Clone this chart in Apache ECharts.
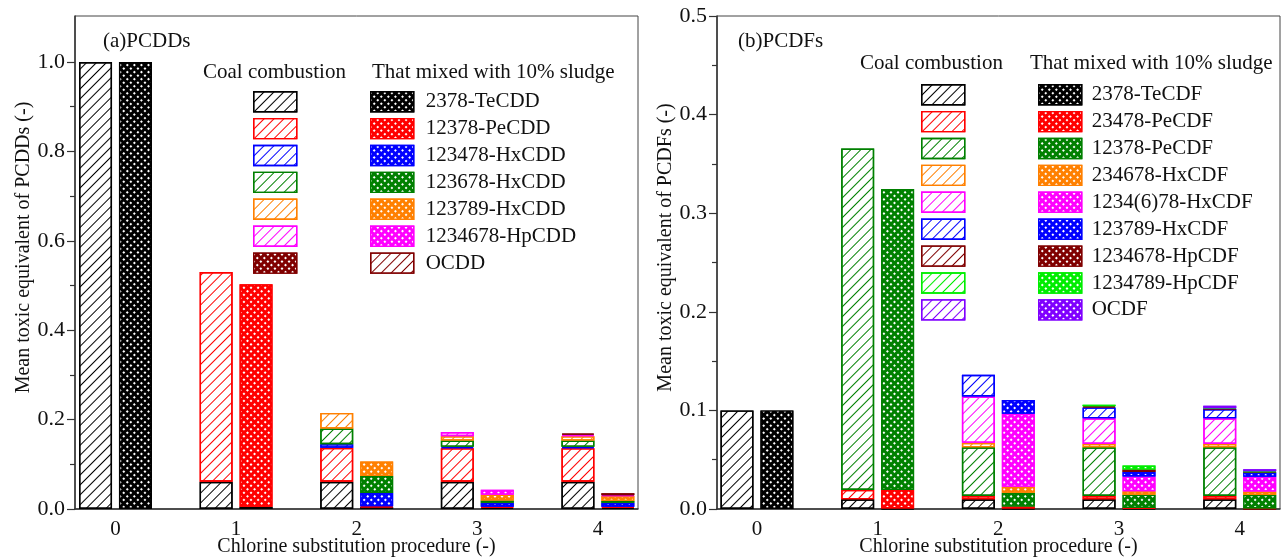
<!DOCTYPE html>
<html><head><meta charset="utf-8">
<script src="https://cdn.jsdelivr.net/npm/echarts@6/dist/echarts.min.js"></script>
<style>html,body{margin:0;padding:0;background:#fff}#c{width:1287px;height:558px}</style>
</head><body><div id="c"></div>
<script>
// ---------- data ----------
const categories = ['0', '1', '2', '3', '4'];

// (a) PCDDs
const cddNames = ['2378-TeCDD', '12378-PeCDD', '123478-HxCDD', '123678-HxCDD', '123789-HxCDD', '1234678-HpCDD', 'OCDD'];
const cddColors = ['#000000', '#ff0000', '#0000ff', '#008000', '#ff8000', '#ff00ff', '#800000'];
// coal combustion
const coalTeCDD   = [1.000, 0.061, 0.061, 0.061, 0.061];
const coalPeCDD   = [null, 0.469, 0.076, 0.075, 0.075];
const coalHx478   = [null, null, 0.008, 0.003, 0.003];
const coalHx678   = [null, null, 0.035, 0.014, 0.014];
const coalHx789   = [null, null, 0.035, 0.010, 0.010];
const coalHpCDD   = [null, null, null, 0.009, 0.003];
const coalOCDD    = [null, null, null, null, 0.003];
// mixed with 10% sludge
const mixTeCDD    = [1.000, 0.005, 0.004, 0.003, 0.003];
const mixPeCDD    = [null, 0.498, 0.002, 0.002, 0.002];
const mixHx478    = [null, null, 0.030, 0.009, 0.009];
const mixHx678    = [null, null, 0.038, 0.005, 0.004];
const mixHx789    = [null, null, 0.032, 0.013, 0.011];
const mixHpCDD    = [null, null, null, 0.011, 0.002];
const mixOCDD     = [null, null, null, null, 0.004];

// (b) PCDFs
const cdfNames = ['2378-TeCDF', '23478-PeCDF', '12378-PeCDF', '234678-HxCDF', '1234(6)78-HxCDF', '123789-HxCDF', '1234678-HpCDF', '1234789-HpCDF', 'OCDF'];
const cdfColors = ['#000000', '#ff0000', '#008000', '#ff8000', '#ff00ff', '#0000ff', '#800000', '#00ee00', '#8000ff'];
// coal combustion
const coalTeCDF    = [0.100, 0.0098, 0.0098, 0.0098, 0.0098];
const coalPe23478  = [null, 0.0095, 0.0034, 0.0034, 0.0034];
const coalPe12378  = [null, 0.3462, 0.0494, 0.0494, 0.0494];
const coalHx234678 = [null, null, 0.0045, 0.0034, 0.0034];
const coalHx123478 = [null, null, 0.0470, 0.0260, 0.0260];
const coalHx123789 = [null, null, 0.0220, 0.0110, 0.0093];
const coalHp1234678= [null, null, null, 0.0012, 0.0005];
const coalHp1234789= [null, null, null, 0.0015, 0.0005];
const coalOCDF     = [null, null, null, null, 0.0025];
// mixed with 10% sludge
const mixTeCDF     = [0.100, 0.0005, 0.0005, 0.0005, 0.0003];
const mixPe23478   = [null, 0.0188, 0.0020, 0.0005, 0.0003];
const mixPe12378   = [null, 0.3052, 0.0140, 0.0135, 0.0137];
const mixHx234678  = [null, null, 0.0060, 0.0035, 0.0034];
const mixHx123478  = [null, null, 0.0740, 0.0150, 0.0150];
const mixHx123789  = [null, null, 0.0140, 0.0045, 0.0045];
const mixHp1234678 = [null, null, null, 0.0025, 0.0005];
const mixHp1234789 = [null, null, null, 0.0040, 0.0005];
const mixOCDF      = [null, null, null, null, 0.0020];

const yTicksA = [0, 0.2, 0.4, 0.6, 0.8, 1.0];
const yMinorA = [0.1, 0.3, 0.5, 0.7, 0.9];
const yTicksB = [0, 0.1, 0.2, 0.3, 0.4, 0.5];
const yMinorB = [0.05, 0.15, 0.25, 0.35, 0.45];

const cddCoal = [coalTeCDD, coalPeCDD, coalHx478, coalHx678, coalHx789, coalHpCDD, coalOCDD];
const cddMix  = [mixTeCDD, mixPeCDD, mixHx478, mixHx678, mixHx789, mixHpCDD, mixOCDD];
const cdfCoal = [coalTeCDF, coalPe23478, coalPe12378, coalHx234678, coalHx123478, coalHx123789, coalHp1234678, coalHp1234789, coalOCDF];
const cdfMix  = [mixTeCDF, mixPe23478, mixPe12378, mixHx234678, mixHx123478, mixHx123789, mixHp1234678, mixHp1234789, mixOCDF];

// ---------- styling ----------
const FONT = 'Liberation Serif';
const TXT = '#111';
function hatch(c) {
  return { color: c, symbol: 'rect', symbolSize: 1, dashArrayX: [[1, 0]], dashArrayY: [1, 5.8], rotation: -Math.PI / 4 };
}
function cross() {
  return { color: '#ffffff', symbol: 'rect', symbolSize: 1, dashArrayX: [[2, 2.2]], dashArrayY: [2, 2.2], rotation: Math.PI / 4 };
}

function buildSeries(names, coal, mix, colors, xi, yi, tag) {
  const out = [];
  names.forEach((n, i) => {
    out.push({
      type: 'bar', name: tag + 'c:' + n, xAxisIndex: xi, yAxisIndex: yi, stack: 'coal' + xi,
      barWidth: 33, barGap: '21%', data: coal[i], silent: true,
      itemStyle: { color: '#ffffff', borderColor: colors[i], borderWidth: 1.4, decal: hatch(colors[i]) }
    });
  });
  names.forEach((n, i) => {
    out.push({
      type: 'bar', name: tag + n, xAxisIndex: xi, yAxisIndex: yi, stack: 'mix' + xi,
      barWidth: 33, barGap: '21%', data: mix[i], silent: true,
      itemStyle: { color: colors[i], borderColor: colors[i], borderWidth: 1.4, decal: cross() }
    });
  });
  return out;
}

const series = [].concat(
  buildSeries(cddNames, cddCoal, cddMix, cddColors, 1, 2, 'A'),
  buildSeries(cdfNames, cdfCoal, cdfMix, cdfColors, 3, 5, 'B')
);

// legend data (left panel: OCDD entries swapped as in the original)
const legCoalA = cddNames.slice(0, 6).map(n => 'Ac:' + n).concat(['AOCDD']);
const legMixA  = cddNames.slice(0, 6).map(n => 'A' + n).concat(['Ac:OCDD']);
const legCoalB = cdfNames.map(n => 'Bc:' + n);
const legMixB  = cdfNames.map(n => 'B' + n);
const strip = s => s.replace(/^[AB](c:)?/, '');

function frameY(gi, max, ticks, name, fmt) {
  return {
    gridIndex: gi, type: 'value', min: 0, max: max, position: 'left',
    axisLine: { show: true, lineStyle: { color: '#333', width: 1.5 } },
    axisTick: { show: true, inside: false, length: 8, customValues: ticks, lineStyle: { color: '#333', width: 1.2 } },
    axisLabel: { customValues: ticks, formatter: fmt, margin: 10, fontFamily: FONT, fontSize: 22, color: TXT, padding: [4, 0, 0, 0] },
    splitLine: { show: false },
    name: name, nameLocation: 'middle', nameGap: 27, nameRotate: 90,
    nameTextStyle: { fontFamily: FONT, fontSize: 20, color: TXT, padding: [0, 0, 0, 30] }
  };
}
function minorY(gi, max, ticks) {
  return {
    gridIndex: gi, type: 'value', min: 0, max: max, position: 'left',
    axisLine: { show: false },
    axisTick: { show: true, inside: false, length: 5, customValues: ticks, lineStyle: { color: '#333', width: 1.2 } },
    axisLabel: { show: false }, splitLine: { show: false }
  };
}
function frameX(gi) {
  return {
    gridIndex: gi, type: 'value', min: 0, max: 1,
    axisLine: { show: true, onZero: false, lineStyle: { color: '#333', width: 1.5 } },
    axisTick: { show: false }, axisLabel: { show: false }, splitLine: { show: false },
    name: 'Chlorine substitution procedure (-)', nameLocation: 'middle', nameGap: 28,
    nameTextStyle: { fontFamily: FONT, fontSize: 20, color: TXT }
  };
}
function barX(gi) {
  return {
    gridIndex: gi, type: 'category', data: categories,
    axisLine: { show: false }, axisTick: { show: false }, splitLine: { show: false },
    axisLabel: { margin: 10, fontFamily: FONT, fontSize: 21, color: TXT }
  };
}
function barY(gi, max) {
  return { gridIndex: gi, type: 'value', min: 0, max: max, show: false };
}
function legend(left, top, data, withText, padL) {
  return {
    orient: 'vertical', left: left, top: top, padding: 0, data: data,
    itemWidth: 43, itemHeight: 20, itemGap: 5.5, selectedMode: false, icon: 'rect',
    itemStyle: { borderWidth: 1.4 },
    formatter: withText ? (n => strip(n)) : (() => ''),
    textStyle: { fontFamily: FONT, fontSize: 21, color: TXT, lineHeight: 20, padding: [0, 0, 0, padL] }
  };
}
function label(text, left, top) {
  return { text: text, left: left, top: top, padding: 0,
    textStyle: { fontFamily: FONT, fontSize: 21, fontWeight: 'normal', color: TXT } };
}
function grid(left, width, frame) {
  const g = { left: left, top: 16, width: width, height: 493, outerBoundsMode: 'none', containLabel: false };
  if (frame) Object.assign(g, { show: true, borderColor: '#444', borderWidth: 1, backgroundColor: 'transparent' });
  return g;
}

const option = {
  animation: false,
  backgroundColor: '#fff',
  title: [
    label('(a)PCDDs', 103, 31),
    label('Coal combustion', 203, 62),
    label('That mixed with 10% sludge', 372, 62),
    label('(b)PCDFs', 738, 31),
    label('Coal combustion', 860, 53),
    label('That mixed with 10% sludge', 1030, 53)
  ],
  grid: [grid(75, 563, true), grid(55.2, 603, false), grid(717, 563, true), grid(696.6, 603.5, false)],
  xAxis: [frameX(0), barX(1), frameX(2), barX(3)],
  yAxis: [
    frameY(0, 1.103, yTicksA, 'Mean toxic equivalent of PCDDs (-)', v => v.toFixed(1)),
    minorY(0, 1.103, yMinorA),
    barY(1, 1.103),
    frameY(2, 0.5, yTicksB, 'Mean toxic equivalent of PCDFs (-)', v => v.toFixed(1)),
    minorY(2, 0.5, yMinorB),
    barY(3, 0.5)
  ],
  legend: [
    legend(253, 91, legCoalA, false, 0),
    legend(370, 91, legMixA, true, 7),
    legend(921, 84, legCoalB, false, 0),
    legend(1038, 84, legMixB, true, 5)
  ],
  series: series
};

const chart = echarts.init(document.getElementById('c'), null, { renderer: 'canvas' });
chart.setOption(option);
</script>
</body></html>
